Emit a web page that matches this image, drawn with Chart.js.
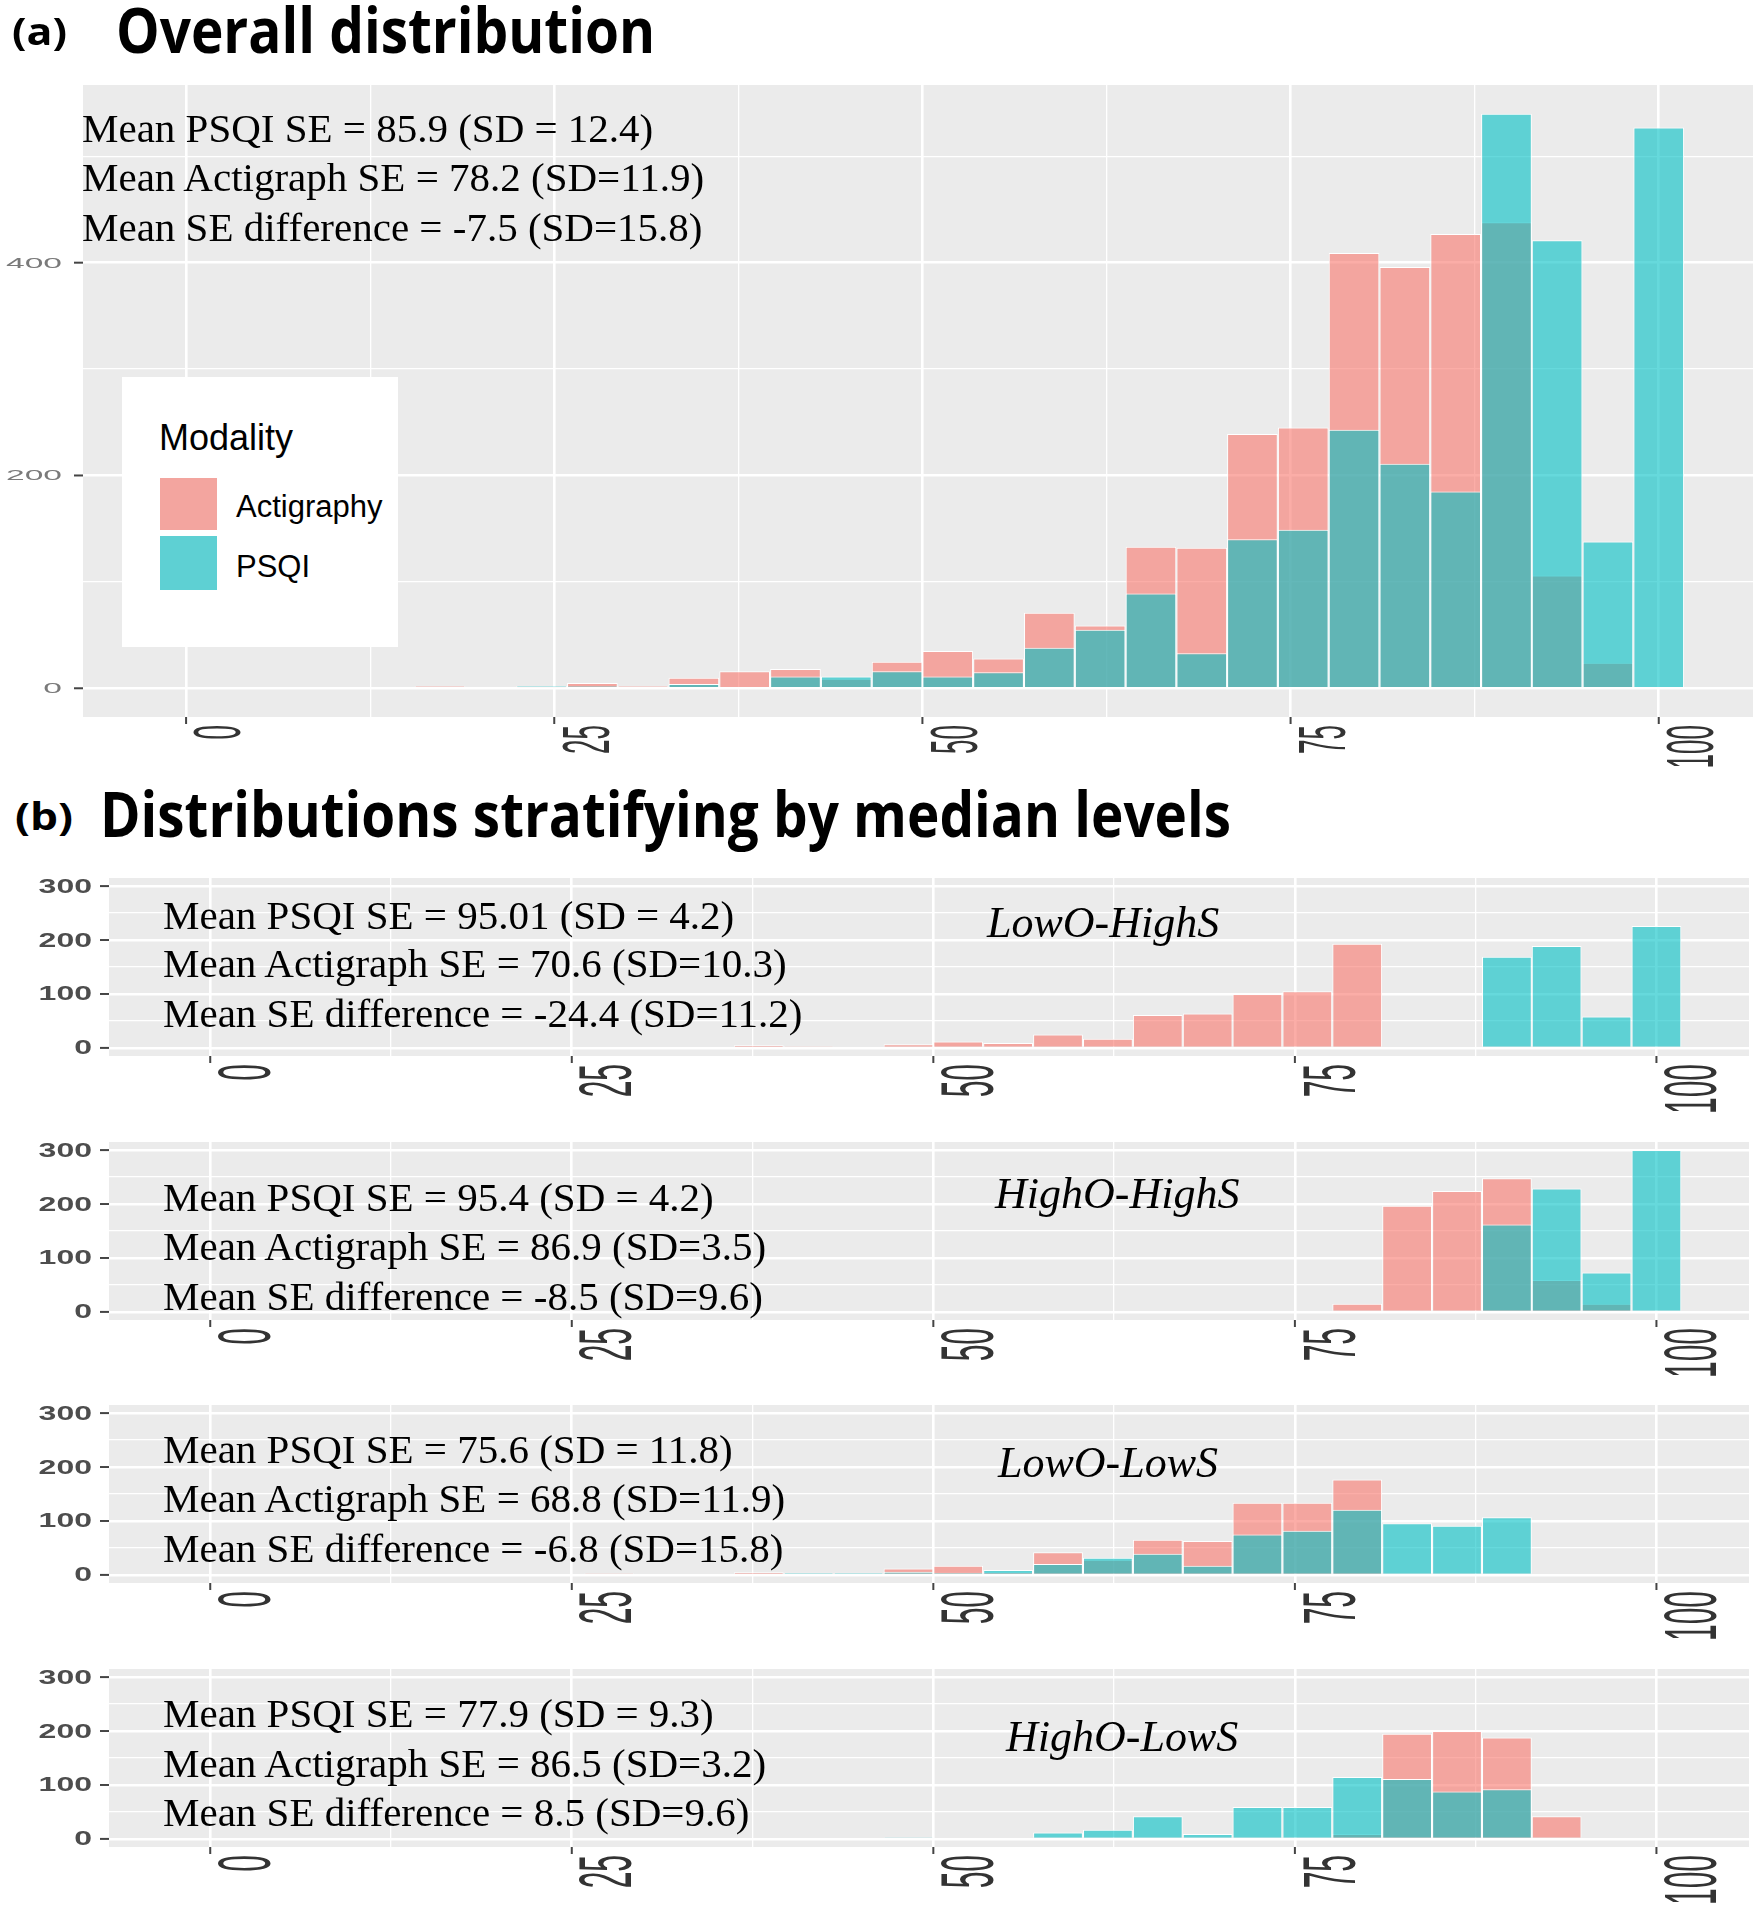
<!DOCTYPE html>
<html>
<head>
<meta charset="utf-8">
<script src="https://cdn.jsdelivr.net/npm/chart.js@4.4.0/dist/chart.umd.min.js"></script>
<style>
  html, body { margin: 0; padding: 0; background: #fff; }
  #page { position: relative; width: 1762px; height: 1920px; overflow: hidden; background: #fff; }
  canvas { position: absolute; left: 0; }
  .txt { position: absolute; white-space: nowrap; line-height: 1; transform-origin: 0 50%; color: #000; z-index: 5; }
  .ttl { font-family: "Open Sans", sans-serif; font-weight: 700; }
  .ann { font-family: "Liberation Serif", "Times New Roman", serif; }
  .grp { font-family: "Liberation Serif", "Times New Roman", serif; font-style: italic; }
  .leg { font-family: "Liberation Sans", Arial, sans-serif; }
  .box { position: absolute; z-index: 4; }
</style>
</head>
<body>
<div id="page">
  <canvas id="chartA"></canvas>
  <canvas id="chartB1"></canvas>
  <canvas id="chartB2"></canvas>
  <canvas id="chartB3"></canvas>
  <canvas id="chartB4"></canvas>
</div>
<script>
// histogram bin centres (sleep efficiency, %), 30 bins
var binCentres = [0, 3.45, 6.9, 10.34, 13.79, 17.24, 20.69, 24.14, 27.59, 31.03,
  34.48, 37.93, 41.38, 44.83, 48.28, 51.72, 55.17, 58.62, 62.07, 65.52,
  68.97, 72.41, 75.86, 79.31, 82.76, 86.21, 89.66, 93.1, 96.55, 100];

var xTickValues = [0, 25, 50, 75, 100];
var xTickLabels = ['0', '25', '50', '75', '100'];
var xGridValues = [0, 12.5, 25, 37.5, 50, 62.5, 75, 87.5, 100];
var yLabelsTop = [0, 200, 400];
var yGridTop = [0, 100, 200, 300, 400, 500];
var yLabelsSub = [0, 100, 200, 300];
var yGridSub = [0, 50, 100, 150, 200, 250, 300];

// (a) overall distribution, counts per bin
var overallActigraphy = [0, 0, 0, 0, 0, 2, 0, 1, 5, 2, 10, 16, 18, 9, 25,
  35, 28, 71, 59, 133, 132, 239, 245, 409, 396, 427, 438, 106, 24, 0];
var overallPsqi = [0, 0, 0, 0, 0, 0, 0, 2, 2, 0, 4, 0, 11, 11, 16,
  11, 15, 38, 55, 89, 33, 140, 149, 243, 211, 185, 540, 421, 138, 527];

// (b) stratified by median levels
var lowOHighSActigraphy = [0, 0, 0, 0, 0, 0, 0, 0, 0, 0, 0, 5, 3, 0, 7,
  12, 9, 25, 17, 61, 64, 100, 105, 193, 0, 0, 0, 0, 0, 0];
var lowOHighSPsqi = [0, 0, 0, 0, 0, 0, 0, 0, 0, 0, 0, 0, 0, 0, 0,
  0, 0, 0, 0, 0, 0, 0, 0, 0, 0, 0, 169, 189, 58, 226];
var highOHighSActigraphy = [0, 0, 0, 0, 0, 0, 0, 0, 0, 0, 0, 0, 0, 0, 0,
  0, 0, 0, 0, 0, 0, 0, 0, 15, 197, 224, 248, 59, 15, 0];
var highOHighSPsqi = [0, 0, 0, 0, 0, 0, 0, 0, 0, 0, 0, 0, 0, 0, 0,
  0, 0, 0, 0, 0, 0, 0, 0, 0, 0, 0, 162, 229, 73, 300];
var lowOLowSActigraphy = [0, 0, 0, 0, 0, 0, 0, 0, 3, 0, 0, 5, 2, 2, 12,
  17, 5, 42, 28, 65, 63, 134, 134, 177, 0, 0, 0, 0, 0, 0];
var lowOLowSPsqi = [0, 0, 0, 0, 0, 0, 0, 0, 0, 0, 0, 0, 4, 4, 6,
  4, 9, 20, 32, 39, 17, 75, 82, 121, 96, 91, 107, 0, 0, 0];
var highOLowSActigraphy = [0, 0, 0, 0, 0, 0, 0, 0, 0, 0, 0, 0, 0, 0, 0,
  0, 0, 0, 0, 0, 0, 0, 0, 9, 195, 200, 188, 42, 2, 0];
var highOLowSPsqi = [0, 0, 0, 0, 0, 0, 0, 0, 0, 0, 0, 0, 0, 0, 3,
  0, 0, 12, 17, 42, 9, 59, 59, 115, 111, 88, 92, 0, 0, 0];

var groupNames = ['LowO-HighS', 'HighO-HighS', 'LowO-LowS', 'HighO-LowS'];
var overallStats = ['Mean PSQI SE = 85.9 (SD = 12.4)', 'Mean Actigraph SE = 78.2 (SD=11.9)', 'Mean SE difference = -7.5 (SD=15.8)'];
var groupStats = [
  ['Mean PSQI SE = 95.01 (SD = 4.2)', 'Mean Actigraph SE = 70.6 (SD=10.3)', 'Mean SE difference = -24.4 (SD=11.2)'],
  ['Mean PSQI SE = 95.4 (SD = 4.2)', 'Mean Actigraph SE = 86.9 (SD=3.5)', 'Mean SE difference = -8.5 (SD=9.6)'],
  ['Mean PSQI SE = 75.6 (SD = 11.8)', 'Mean Actigraph SE = 68.8 (SD=11.9)', 'Mean SE difference = -6.8 (SD=15.8)'],
  ['Mean PSQI SE = 77.9 (SD = 9.3)', 'Mean Actigraph SE = 86.5 (SD=3.2)', 'Mean SE difference = 8.5 (SD=9.6)']
];

var PINK = 'rgba(248, 118, 109, 0.6)';
var TEAL = 'rgba(0, 191, 196, 0.6)';
var page = document.getElementById('page');

// empty bins become null so no hairline is drawn at zero
function toPoints(values) {
  return binCentres.map(function (c, i) { return { x: c, y: values[i] > 0 ? values[i] : null }; });
}

// grey panel background, tick marks and squashed ggplot-like labels
var ggAxes = {
  id: 'ggAxes',
  beforeDraw: function (chart) {
    var a = chart.chartArea, ctx = chart.ctx;
    ctx.save();
    ctx.fillStyle = '#EBEBEB';
    ctx.fillRect(a.left, a.top, a.right - a.left, a.bottom - a.top);
    ctx.restore();
  },
  afterDraw: function (chart, args, o) {
    var ctx = chart.ctx, a = chart.chartArea;
    var xs = chart.scales.x, ys = chart.scales.y;
    ctx.save();
    ctx.strokeStyle = '#444';
    ctx.lineWidth = 2;
    o.yLabels.forEach(function (v) {
      var py = ys.getPixelForValue(v);
      ctx.beginPath(); ctx.moveTo(a.left - 9, py); ctx.lineTo(a.left, py); ctx.stroke();
      ctx.save();
      ctx.translate(a.left - o.yGap, py);
      ctx.scale(o.yStretch, 1);
      ctx.font = o.yFont;
      ctx.fillStyle = o.yColor;
      ctx.textAlign = 'right';
      ctx.textBaseline = 'middle';
      ctx.fillText(String(v), 0, 1);
      ctx.restore();
    });
    xTickValues.forEach(function (v, i) {
      var px = xs.getPixelForValue(v);
      ctx.beginPath(); ctx.moveTo(px, a.bottom); ctx.lineTo(px, a.bottom + 7); ctx.stroke();
      ctx.save();
      ctx.translate(px + o.xGap, a.bottom + o.xTop);
      ctx.rotate(-Math.PI / 2);
      ctx.scale(1, o.xStretch);
      ctx.font = o.xSize + 'px "Liberation Sans", Arial, sans-serif';
      ctx.fillStyle = '#333';
      ctx.textAlign = 'right';
      ctx.textBaseline = 'alphabetic';
      ctx.fillText(xTickLabels[i], 0, o.xSize * 0.716);
      ctx.restore();
    });
    ctx.restore();
  }
};

function makePanel(id, canvasTop, canvasHeight, box, yMin, yMax, yGrid, yMajorStep, axisOpts, actig, psqi) {
  var cv = document.getElementById(id);
  cv.width = 1762; cv.height = canvasHeight;
  cv.style.top = canvasTop + 'px';
  cv.style.width = '1762px'; cv.style.height = canvasHeight + 'px';
  var barStyle = {
    borderColor: '#ffffff',
    borderWidth: function (c) { return c.raw && c.raw.y > 0 ? 1 : 0; },
    inflateAmount: 0,
    grouped: false,
    barPercentage: 1,
    categoryPercentage: 1
  };
  return new Chart(cv, {
    type: 'bar',
    data: {
      datasets: [
        Object.assign({ label: 'PSQI', data: toPoints(psqi), backgroundColor: TEAL, order: 0 }, barStyle),
        Object.assign({ label: 'Actigraphy', data: toPoints(actig), backgroundColor: PINK, order: 1 }, barStyle)
      ]
    },
    options: {
      responsive: false,
      animation: false,
      devicePixelRatio: 1,
      layout: {
        padding: { left: box[0], top: box[1] - canvasTop, right: 1762 - box[2], bottom: canvasTop + canvasHeight - box[3] }
      },
      plugins: { legend: { display: false }, tooltip: { enabled: false }, ggAxes: axisOpts },
      scales: {
        x: {
          type: 'linear', min: -7, max: 106.4, offset: false,
          afterBuildTicks: function (s) { s.ticks = xGridValues.map(function (v) { return { value: v }; }); },
          grid: { color: '#ffffff', offset: false, drawTicks: false,
            lineWidth: function (c) { return c.tick && c.tick.value % 25 === 0 ? 2.6 : 1.3; } },
          border: { display: false },
          ticks: { display: false }
        },
        y: {
          type: 'linear', min: yMin, max: yMax,
          afterBuildTicks: function (s) { s.ticks = yGrid.map(function (v) { return { value: v }; }); },
          grid: { color: '#ffffff', drawTicks: false,
            lineWidth: function (c) { return c.tick && c.tick.value % yMajorStep === 0 ? 2.4 : 1.3; } },
          border: { display: false },
          ticks: { display: false }
        }
      }
    },
    plugins: [ggAxes]
  });
}

var topAxis = { yLabels: yLabelsTop, yFont: '14px "Liberation Sans", Arial, sans-serif', yStretch: 2.4, yColor: '#7a7a7a', yGap: 21,
  xSize: 26, xStretch: 2.6, xGap: 6, xTop: 8 };
var subAxis = { yLabels: yLabelsSub, yFont: 'bold 20px "Liberation Sans", Arial, sans-serif', yStretch: 1.6, yColor: '#4d4d4d', yGap: 17,
  xSize: 30, xStretch: 2.5, xGap: 6, xTop: 8 };

makePanel('chartA', 55, 725, [83, 85, 1753, 717], -27, 567, yGridTop, 200, topAxis, overallActigraphy, overallPsqi);
makePanel('chartB1', 860, 270, [109, 878, 1749, 1056], -15, 315, yGridSub, 100, subAxis, lowOHighSActigraphy, lowOHighSPsqi);
makePanel('chartB2', 1125, 270, [109, 1142, 1749, 1320], -15, 315, yGridSub, 100, subAxis, highOHighSActigraphy, highOHighSPsqi);
makePanel('chartB3', 1388, 270, [109, 1405, 1749, 1583], -15, 315, yGridSub, 100, subAxis, lowOLowSActigraphy, lowOLowSPsqi);
makePanel('chartB4', 1652, 268, [109, 1669, 1749, 1847], -15, 315, yGridSub, 100, subAxis, highOLowSActigraphy, highOLowSPsqi);

// text overlays
var fits = [];
function addText(cls, str, left, cy, size, width) {
  var el = document.createElement('div');
  el.className = 'txt ' + cls;
  el.textContent = str;
  el.style.left = left + 'px';
  el.style.top = (cy - size * 0.5) + 'px';
  el.style.fontSize = size + 'px';
  page.appendChild(el);
  if (width) fits.push([el, width]);
  return el;
}
function addBox(left, top, w, h, color) {
  var el = document.createElement('div');
  el.className = 'box';
  el.style.left = left + 'px'; el.style.top = top + 'px';
  el.style.width = w + 'px'; el.style.height = h + 'px';
  el.style.background = color;
  page.appendChild(el);
}
function applyFits() {
  fits.forEach(function (f) {
    f[0].style.transform = 'none';
    var w = f[0].getBoundingClientRect().width;
    if (w > 0) f[0].style.transform = 'scaleX(' + (f[1] / w) + ')';
  });
}

addText('ttl', '(a)', 12, 30, 38, 55);
addText('ttl', 'Overall distribution', 116, 29, 62, 539);
addText('ttl', '(b)', 15, 815, 38, 58);
addText('ttl', 'Distributions stratifying by median levels', 100, 813, 62, 1131);

var annTop = [128, 177, 227];
overallStats.forEach(function (s, i) { addText('ann', s, 82, annTop[i], 41); });

var annSub = [[915, 963, 1013], [1197, 1246, 1296], [1449, 1498, 1548], [1713, 1763, 1812]];
var grpPos = [[987, 923], [995, 1194], [998, 1463], [1006, 1737]];
groupStats.forEach(function (lines, g) {
  lines.forEach(function (s, i) { addText('ann', s, 163, annSub[g][i], 41); });
  addText('grp', groupNames[g], grpPos[g][0], grpPos[g][1], 44);
});

// legend
addBox(122, 377, 276, 270, '#ffffff');
addText('leg', 'Modality', 159, 438, 36);
addBox(160, 478, 57, 52, '#F3A59F');
addBox(160, 536, 57, 54, '#5ED0D3');
addText('leg', 'Actigraphy', 236, 506, 31);
addText('leg', 'PSQI', 236, 566, 31);

applyFits();
if (document.fonts && document.fonts.ready) document.fonts.ready.then(applyFits);
</script>
</body>
</html>
